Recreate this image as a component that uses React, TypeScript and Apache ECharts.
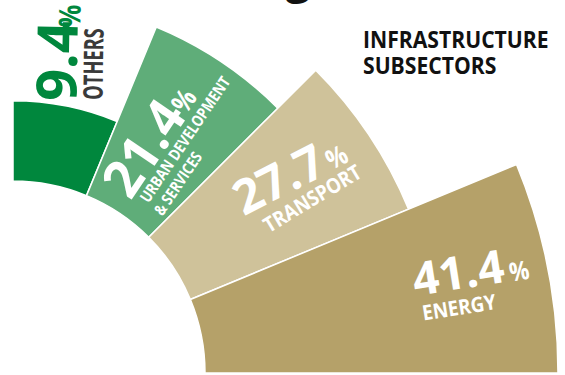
import React, { useEffect, useRef } from "react";
import * as echarts from "echarts";

// ---- data ----
const sectorNames = ["Others", "Urban development & services", "Transport", "Energy"];
const values = [9.4, 21.4, 27.7, 41.4];
const categoryLines = [["OTHERS"], ["URBAN DEVELOPMENT", "& SERVICES"], ["TRANSPORT"], ["ENERGY"]];
const titleLines = ["INFRASTRUCTURE", "SUBSECTORS"];
const headingFragment = "g";

// ---- styles / layout ----
const sectorColors = ["#00873D", "#5FAD79", "#CFC29A", "#B5A169"];
const numberColors = ["#00873D", "#FFFFFF", "#FFFFFF", "#FFFFFF"];
const categoryColors = ["#3A3A3A", "#FFFFFF", "#FFFFFF", "#FFFFFF"];
const FONT = '"Open Sans", "Noto Sans", sans-serif';

// per label: rotation (deg), number [x,y,size,scaleX], percent [x,y,size,scaleX], category lines [x,y,size,scaleX,align]
const labelLayout = [
  { rot: 89, num: [55, 61, 56, 1], pct: [68.5, 16, 30, 0.85], cat: [[92.5, 64, 27, 0.68, "center"]] },
  { rot: 56, num: [142, 147, 53, 0.97], pct: [183, 100, 28, 0.85], cat: [[143, 200, 16, 0.82, "left"], [157, 213, 16, 0.82, "left"]] },
  { rot: 27, num: [278, 178, 48, 1], pct: [336, 156, 27, 0.85], cat: [[312, 198, 21, 0.88, "center"]], catRot: 31 },
  { rot: 9, num: [458, 271, 46, 1], pct: [519, 270, 26, 0.85], cat: [[459, 307, 21, 0.9, "center"]] },
];

function txt(text: string, x: number, y: number, rotDeg: number, size: number, color: string, sx = 1, align = "center", vAlign = "middle") {
  return {
    type: "text",
    x,
    y,
    z: 100,
    rotation: (rotDeg * Math.PI) / 180,
    scaleX: sx,
    silent: true,
    style: {
      text,
      fill: color,
      font: `bold ${size}px ${FONT}`,
      align,
      verticalAlign: vAlign,
      textAlign: align,
      textVerticalAlign: vAlign,
    },
  };
}

export default function App() {
  const ref = useRef<HTMLDivElement>(null);
  useEffect(() => {
    if (!ref.current) return;
    const chart = echarts.init(ref.current, null, { renderer: "svg" });

    const graphics: any[] = [];
    values.forEach((v, i) => {
      const L = labelLayout[i];
      graphics.push(txt(v.toFixed(1), L.num[0], L.num[1], L.rot, L.num[2], numberColors[i], L.num[3]));
      graphics.push(txt("%", L.pct[0], L.pct[1], L.rot, L.pct[2], numberColors[i], L.pct[3]));
      categoryLines[i].forEach((line, j) => {
        const c = L.cat[j] as any[];
        graphics.push(txt(line, c[0], c[1], (L as any).catRot ?? L.rot, c[2], categoryColors[i], c[3], c[4]));
      });
    });
    titleLines.forEach((line, j) => {
      graphics.push(txt(line, 363, 38.5 + j * 26.5, 0, 23, "#111111", 0.92, "left"));
    });
    graphics.push(txt(headingFragment, 298, -2.5, 0, 44, "#111111", 1, "center", "bottom"));

    chart.setOption({
      animation: false,
      backgroundColor: "#ffffff",
      polar: { center: [13, 373], radius: [192, 545] },
      angleAxis: {
        type: "category",
        data: sectorNames,
        startAngle: 90,
        endAngle: 0,
        clockwise: true,
        boundaryGap: true,
        show: false,
      },
      radiusAxis: { type: "value", min: 0, max: "dataMax", show: false },
      series: [
        {
          type: "bar",
          coordinateSystem: "polar",
          barCategoryGap: "0%",
          silent: true,
          itemStyle: { borderColor: "#ffffff", borderWidth: 1.5 },
          data: values.map((v, i) => ({
            value: v,
            name: sectorNames[i],
            itemStyle: { color: sectorColors[i] },
          })),
        },
      ],
      graphic: graphics,
    });
    return () => chart.dispose();
  }, []);
  return (
    <div
      ref={ref}
      style={{ position: "fixed", left: 0, top: 0, width: 565, height: 375 }}
    />
  );
}
